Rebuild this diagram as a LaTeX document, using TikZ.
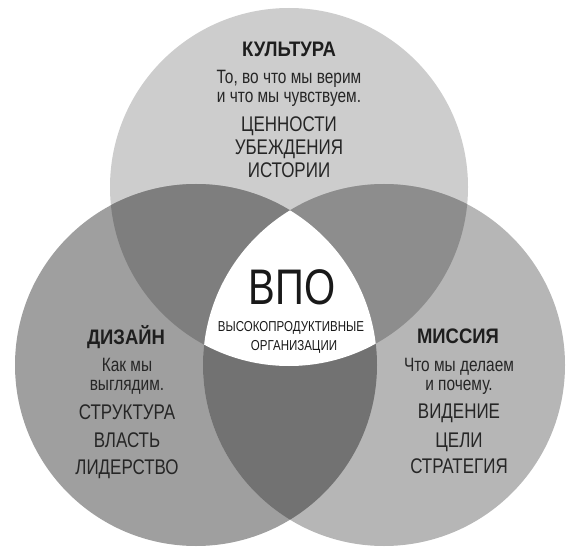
\documentclass[tikz,border=0pt]{standalone}
\usepackage{fontspec}
\setmainfont{Liberation Sans}[FakeStretch=0.8]
\newfontfamily\ttlfont{Liberation Sans}[FakeStretch=0.88]
\definecolor{cT}{HTML}{CDCDCD}
\definecolor{cL}{HTML}{9F9F9F}
\definecolor{cR}{HTML}{B6B6B6}
\definecolor{cTL}{HTML}{7E7E7E}
\definecolor{cTR}{HTML}{8D8D8D}
\definecolor{cLR}{HTML}{727272}
\definecolor{txt}{HTML}{262626}
\begin{document}
\begin{tikzpicture}[x=1pt,y=-1pt,
  ttl/.style={font=\ttlfont\bfseries\fontsize{21}{22}\selectfont, text=txt!80!black, inner sep=0pt, anchor=base},
  dsc/.style={font=\fontsize{19.3}{20}\selectfont, text=txt, inner sep=0pt, anchor=base},
  itm/.style={font=\fontsize{21.2}{22}\selectfont, text=txt, inner sep=0pt, anchor=base},
  big/.style={font=\fontsize{50}{52}\selectfont, text=black!90, inner sep=0pt, anchor=base},
  sml/.style={font=\fontsize{14.4}{15}\selectfont, text=black!90, inner sep=0pt, anchor=base}]
\useasboundingbox (0,0) rectangle (578,556);
\def\cT{(289,187) circle (179)}
\def\cL{(196,365) circle (181)}
\def\cR{(384,365) circle (181)}
% single regions
\fill[cT] \cT;
\fill[cL] \cL;
\fill[cR] \cR;
% pairwise overlaps
\begin{scope}\clip \cT; \fill[cTL] \cL; \end{scope}
\begin{scope}\clip \cT; \fill[cTR] \cR; \end{scope}
\begin{scope}\clip \cL; \fill[cLR] \cR; \end{scope}
% centre
\begin{scope}\clip \cT; \clip \cL; \fill[white] \cR; \end{scope}
% top: culture
\node[ttl] (kt) at (289,57) {КУЛЬТУРА};
\node[dsc] (kd1) at (289,84) {То, во что мы верим};
\node[dsc] (kd2) at (289,103) {и что мы чувствуем.};
\node[itm] (k1) at (289,132) {ЦЕННОСТИ};
\node[itm] (k2) at (289,155) {УБЕЖДЕНИЯ};
\node[itm] (k3) at (289,178) {ИСТОРИИ};
% centre
\node[big] (v) at (292,304) {ВПО};
\node[sml] (v1) at (291,331) {ВЫСОКОПРОДУКТИВНЫЕ};
\node[sml] (v2) at (294,350) {ОРГАНИЗАЦИИ};
% left: design
\node[ttl] (dt) at (126,344) {ДИЗАЙН};
\node[dsc] (dd1) at (127,371) {Как мы};
\node[dsc] (dd2) at (127,390) {выглядим.};
\node[itm] (d1) at (127,419) {СТРУКТУРА};
\node[itm] (d2) at (127,447) {ВЛАСТЬ};
\node[itm] (d3) at (127,474) {ЛИДЕРСТВО};
% right: mission
\node[ttl] (mt) at (458,343) {МИССИЯ};
\node[dsc] (md1) at (459,371) {Что мы делаем};
\node[dsc] (md2) at (459,390) {и почему.};
\node[itm] (m1) at (459,418) {ВИДЕНИЕ};
\node[itm] (m2) at (459,447) {ЦЕЛИ};
\node[itm] (m3) at (459,473) {СТРАТЕГИЯ};
\end{tikzpicture}
\end{document}
